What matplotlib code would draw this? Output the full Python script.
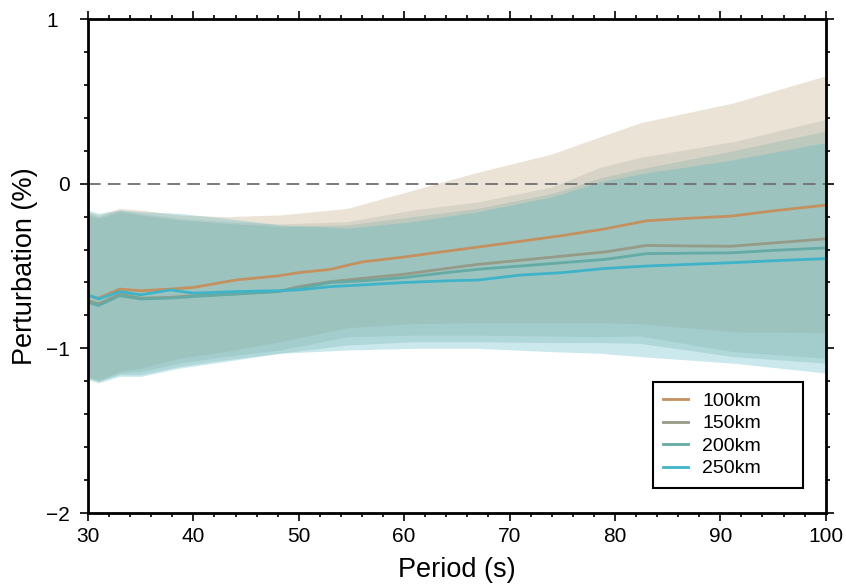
import matplotlib
matplotlib.use("Agg")
import matplotlib.pyplot as plt
import numpy as np

plt.rcParams['font.family'] = ['Liberation Sans', 'DejaVu Sans']

depths = ["100km", "150km", "200km", "250km"]
line_colors = ["#c4915e", "#959b86", "#64aaa5", "#3fb4c9"]
fill_colors = ["#c8af8c", "#a9b4a5", "#81b0a7", "#55b7c4"]
fill_alpha = [0.35, 0.3, 0.3, 0.3]

# mean curves
period = [30, 31, 33, 35, 37.8, 40, 44, 48, 50, 53, 56, 60, 64, 67, 71, 75, 79, 83, 87, 91, 95, 100]
mean_100 = [-0.68, -0.695, -0.64, -0.65, -0.64, -0.63, -0.585, -0.56, -0.54, -0.52, -0.475, -0.445,
            -0.41, -0.385, -0.35, -0.315, -0.275, -0.225, -0.21, -0.197, -0.165, -0.13]
mean_150 = [-0.71, -0.73, -0.67, -0.695, -0.69, -0.68, -0.67, -0.655, -0.625, -0.595, -0.575, -0.55,
            -0.515, -0.49, -0.465, -0.44, -0.415, -0.375, -0.378, -0.38, -0.36, -0.335]
mean_200 = [-0.72, -0.74, -0.68, -0.70, -0.695, -0.685, -0.67, -0.655, -0.635, -0.60, -0.59, -0.57,
            -0.54, -0.52, -0.50, -0.48, -0.46, -0.425, -0.422, -0.42, -0.405, -0.39]
mean_250 = [-0.675, -0.70, -0.655, -0.675, -0.645, -0.665, -0.655, -0.65, -0.645, -0.625, -0.615, -0.60,
            -0.59, -0.585, -0.555, -0.54, -0.515, -0.50, -0.49, -0.48, -0.468, -0.455]

# spread (upper / lower bounds)
period_band = [30, 31, 33, 35, 38.7, 43, 48.2, 54.6, 60.8, 67, 74, 78.6, 82.4, 91.2, 100]
upper_100 = [-0.17, -0.19, -0.15, -0.16, -0.19, -0.20, -0.19, -0.15, -0.04, 0.07, 0.18, 0.285, 0.37, 0.49, 0.655]
upper_150 = [-0.18, -0.20, -0.16, -0.18, -0.21, -0.23, -0.245, -0.23, -0.16, -0.11, -0.02, 0.10, 0.16, 0.255, 0.39]
upper_200 = [-0.19, -0.21, -0.17, -0.19, -0.22, -0.24, -0.26, -0.25, -0.20, -0.15, -0.06, 0.035, 0.09, 0.20, 0.32]
upper_250 = [-0.16, -0.18, -0.16, -0.17, -0.18, -0.21, -0.25, -0.27, -0.23, -0.17, -0.08, 0.01, 0.06, 0.145, 0.25]
lower_100 = [-1.17, -1.19, -1.14, -1.12, -1.06, -1.02, -0.96, -0.875, -0.85, -0.845, -0.845, -0.845, -0.85, -0.90, -0.905]
lower_150 = [-1.18, -1.20, -1.15, -1.14, -1.09, -1.05, -1.01, -0.93, -0.92, -0.92, -0.925, -0.93, -0.925, -1.02, -1.06]
lower_200 = [-1.18, -1.20, -1.16, -1.16, -1.11, -1.07, -1.03, -0.98, -0.96, -0.96, -0.965, -0.965, -0.97, -1.05, -1.09]
lower_250 = [-1.19, -1.21, -1.17, -1.17, -1.12, -1.08, -1.03, -1.01, -1.0, -1.0, -1.02, -1.03, -1.05, -1.09, -1.15]

means = [mean_100, mean_150, mean_200, mean_250]
uppers = [upper_100, upper_150, upper_200, upper_250]
lowers = [lower_100, lower_150, lower_200, lower_250]

fig = plt.figure(figsize=(8.46, 5.85), dpi=100)
ax = fig.add_axes([0.104, 0.123, 0.872, 0.8445])

for i in range(4):
    ax.fill_between(period_band, lowers[i], uppers[i], color=fill_colors[i],
                    alpha=fill_alpha[i], linewidth=0)

ax.axhline(0, color="#707070", lw=1.3, ls=(0, (7, 4)))

for i in range(4):
    ax.plot(period, means[i], color=line_colors[i], lw=2, label=depths[i])

ax.set_xlim(30, 100)
ax.set_ylim(-2, 1)
ax.set_xticks(np.arange(30, 101, 10))
ax.set_xticks(np.arange(30, 101, 2), minor=True)
ax.set_yticks([-2, -1, 0, 1])
ax.set_yticklabels(["\u22122", "\u22121", "0", "1\u2007"])
ax.set_yticks(np.arange(-2, 1.01, 0.2), minor=True)
ax.tick_params(which="both", direction="out", top=True, right=True, width=1.2, labelsize=15)
ax.tick_params(which="major", length=6)
ax.tick_params(which="minor", length=3)
ax.tick_params(axis="x", pad=4)
ax.tick_params(axis="y", pad=7)
for s in ax.spines.values():
    s.set_linewidth(2)

ax.set_xlabel("Period (s)", fontsize=19.5, labelpad=8)
ax.set_ylabel("Perturbation (%)", fontsize=19.5, labelpad=6)

leg = ax.legend(loc="lower left", bbox_to_anchor=(0.7656, 0.0506, 0.2033, 0.2), mode="expand",
                borderaxespad=0, fontsize=14, fancybox=False, frameon=True, handlelength=1.25,
                handletextpad=0.75, labelspacing=0.25, borderpad=0.55)
leg.get_frame().set_edgecolor("black")
leg.get_frame().set_linewidth(1.5)
leg.get_frame().set_alpha(1)

fig.savefig("out.png", dpi=100)
